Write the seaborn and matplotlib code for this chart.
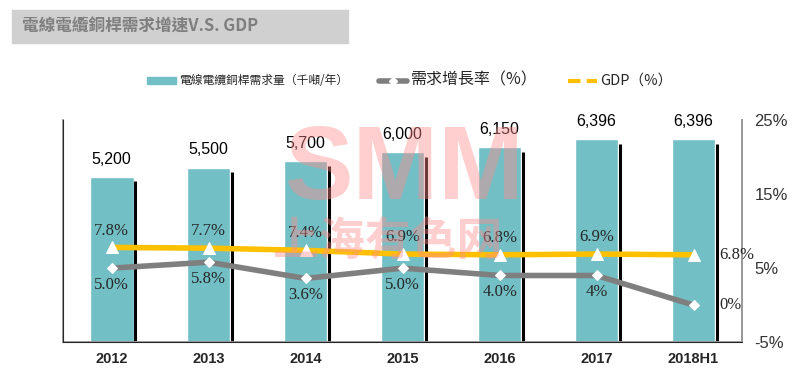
import numpy as np
import pandas as pd
import matplotlib
matplotlib.use("Agg")
import matplotlib.pyplot as plt
import seaborn as sns
from matplotlib.lines import Line2D
from matplotlib.patches import Patch, Rectangle

years = ["2012", "2013", "2014", "2015", "2016", "2017", "2018H1"]
demand = [5200, 5500, 5700, 6000, 6150, 6396, 6396]
growth = [5.0, 5.8, 3.6, 5.0, 4.0, 4.0, 0.0]
growth_labels = ["5.0%", "5.8%", "3.6%", "5.0%", "4.0%", "4%", "0%"]
gdp = [7.8, 7.7, 7.4, 6.9, 6.8, 6.9, 6.8]
gdp_labels = ["7.8%", "7.7%", "7.4%", "6.9%", "6.8%", "6.9%", "6.8%"]

sns.set_style("white")
plt.rcParams['font.family'] = ['Noto Sans CJK TC', 'DejaVu Sans']

bar_c = "#72BFC5"
gray = "#7F7F7F"
gold = "#FFC000"
serif = ['Liberation Serif', 'DejaVu Serif']
sans = ['Liberation Sans', 'DejaVu Sans']

fig = plt.figure(figsize=(8, 3.79), dpi=100)
ax = fig.add_axes([0.079, 0.0976, 0.8485, 0.585])

df = pd.DataFrame({"year": years, "demand": demand})
sns.barplot(data=df, x="year", y="demand", color=bar_c, width=0.45,
            saturation=1, ax=ax, zorder=2)
x = np.arange(len(years))
w = 0.45
# dark shadow edge on the right of each bar
ax.vlines(x + w / 2 + 0.015, 0, np.array(demand) * 0.975, color="black", lw=2.2, zorder=2)
for xi, v in zip(x, demand):
    ax.text(xi, v + 330, f"{v:,}", ha="center", va="bottom", fontsize=11.5,
            family=sans, color="black", zorder=6)
ax.set_ylim(0, 7000)
ax.set_xlim(-0.5, len(years) - 0.5)
ax.set_yticks([])
ax.set_xlabel("")
ax.set_ylabel("")
ax.tick_params(axis="x", length=0, pad=7)
for t in ax.get_xticklabels():
    t.set_fontweight("bold")
    t.set_fontsize(10.5)
    t.set_family(sans)
for s in ["left", "bottom", "right"]:
    ax.spines[s].set_color("#9A9A9A")
    ax.spines[s].set_linewidth(1.3)
ax.spines["top"].set_visible(False)

ax2 = ax.twinx()
sns.lineplot(x=x, y=gdp, color=gold, lw=4, marker="^", markersize=8,
             markerfacecolor="white", markeredgecolor="white", ax=ax2, zorder=4)
sns.lineplot(x=x, y=growth, color=gray, lw=4, marker="D", markersize=5,
             markerfacecolor="white", markeredgecolor="white", ax=ax2, zorder=4)
ax2.set_ylim(-5, 25)
ax2.set_yticks([-5, 5, 15, 25])
ax2.set_yticklabels(["-5%", "5%", "15%", "25%"])
ax2.tick_params(axis="y", length=0, pad=9, labelsize=12, labelcolor="#333333")
for t in ax2.get_yticklabels():
    t.set_family(sans)
ax2.spines["top"].set_visible(False)
ax2.spines["right"].set_color("#9A9A9A")
ax2.spines["right"].set_linewidth(1.3)

for i, (g, lab) in enumerate(zip(gdp, gdp_labels)):
    if i == len(gdp) - 1:
        ax2.text(i + 0.27, g, lab, ha="left", va="center", fontsize=12, family=serif)
    else:
        ax2.text(i, g + 1.2, lab, ha="center", va="bottom", fontsize=12, family=serif)
for i, (g, lab) in enumerate(zip(growth, growth_labels)):
    if i == len(growth) - 1:
        ax2.text(i + 0.27, g, lab, ha="left", va="center", fontsize=12, family=serif)
    else:
        ax2.text(i, g - 1.2, lab, ha="center", va="top", fontsize=12, family=serif)

# watermark
fig.text(0.505, 0.545, "SMM", ha="center", va="center", fontsize=74, fontweight="bold",
         color="#FF8C8C", alpha=0.42, family=sans, zorder=3)
fig.text(0.485, 0.361, "上海有色网", ha="center", va="center", fontsize=33, fontweight="bold",
         color="#FF8C8C", alpha=0.42, zorder=3)

# title box
fig.patches.append(Rectangle((12 / 800, 1 - 43 / 379), 336 / 800, 33 / 379,
                             transform=fig.transFigure, color="#D0D0D0", zorder=0))
fig.text(22 / 800, 1 - 27 / 379, "電線電纜銅桿需求增速V.S. GDP", ha="left", va="center",
         fontsize=12, fontweight="bold", color="#7F7F7F")

handles = [Patch(facecolor=bar_c, edgecolor=bar_c),
           Line2D([], [], color=gray, lw=4, marker="D", markersize=4,
                  markerfacecolor="white", markeredgecolor="white"),
           Line2D([], [], color=gold, lw=3, ls=(0, (3, 1.5)))]
labels = ["電線電纜銅桿需求量（千噸/年）", "需求增長率（%）", "GDP（%）"]
leg = fig.legend(handles, labels, loc="center", bbox_to_anchor=(0.5125, 0.789), ncol=3,
                 frameon=False, fontsize=8.5, handlelength=2.4, handleheight=0.5,
                 columnspacing=2.6, handletextpad=0.3)
leg.get_texts()[1].set_fontsize(11.5)
leg.get_texts()[2].set_fontsize(10.5)

fig.savefig("out.png", dpi=100)
